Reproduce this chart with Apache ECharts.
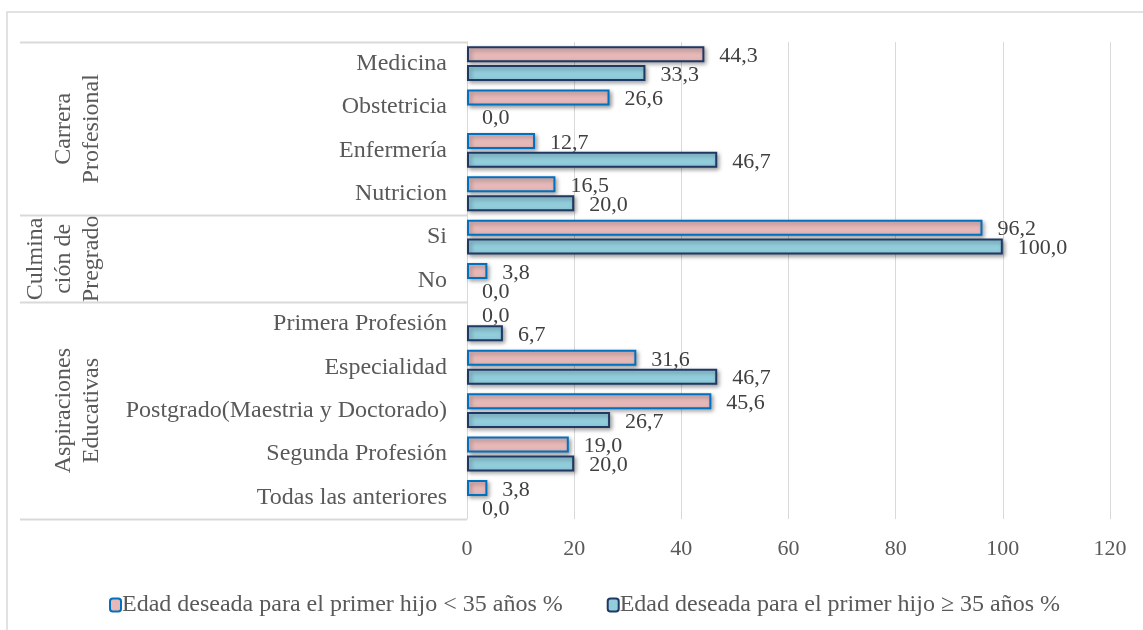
<!DOCTYPE html>
<html>
<head>
<meta charset="utf-8">
<script src="https://cdn.jsdelivr.net/npm/echarts@6/dist/echarts.min.js"></script>
<style>
  html, body { margin: 0; padding: 0; background: #fff; }
  #chart { width: 1143px; height: 630px; }
</style>
</head>
<body>
<div id="chart"></div>
<script>
// categorias (de arriba hacia abajo)
const categories = ['Medicina', 'Obstetricia', 'Enfermería', 'Nutricion', 'Si', 'No',
  'Primera Profesión', 'Especialidad', 'Postgrado(Maestria y Doctorado)', 'Segunda Profesión', 'Todas las anteriores']
// grupos: etiqueta (lineas) y numero de categorias
const groupNames = [['Carrera', 'Profesional'], ['Culmina', 'ción de', 'Pregrado'], ['Aspiraciones', 'Educativas']]
const groupSizes = [4, 2, 5]
const menos35 = [44.3, 26.6, 12.7, 16.5, 96.2, 3.8, 0.0, 31.6, 45.6, 19.0, 3.8]
const mas35 = [33.3, 0.0, 46.7, 20.0, 100.0, 0.0, 6.7, 46.7, 26.7, 20.0, 0.0]
const seriesNames = ['Edad deseada para el primer hijo < 35 años %', 'Edad deseada para el primer hijo ≥ 35 años %']
const xTicks = [0, 20, 40, 60, 80, 100, 120]

const FONT = '"Liberation Serif", "Times New Roman", serif'
const chart = echarts.init(document.getElementById('chart'))

const fmt = p => p.value.toFixed(1).replace('.', ',')
const shadow = { shadowBlur: 4, shadowColor: 'rgba(0,0,0,0.35)', shadowOffsetX: 2, shadowOffsetY: 2 }
const labelStyle = { show: true, position: 'right', distance: 15, offset: [0, 2], formatter: fmt,
  fontSize: 22, color: '#404040', fontFamily: FONT }

// los ceros no dibujan borde
function toItems(arr, extra) {
  return arr.map((v, i) => {
    if (v === 0) return { value: v, itemStyle: { borderWidth: 0, shadowBlur: 0, shadowOffsetX: 0, shadowOffsetY: 0 } }
    if (extra && extra[i]) return { value: v, itemStyle: extra[i] }
    return v
  })
}

chart.setOption({
  animation: false,
  textStyle: { fontFamily: FONT },
  grid: { left: 467, right: 33, top: 42, bottom: 111 },
  legend: {
    left: 104, top: 588,
    itemWidth: 11, itemHeight: 13, itemGap: 44,
    textStyle: { fontFamily: FONT, fontSize: 24, color: '#595959', padding: [0, 0, 0, -4] },
    data: seriesNames
  },
  xAxis: {
    type: 'value', min: xTicks[0], max: xTicks[xTicks.length - 1], interval: 20,
    axisLine: { show: false }, axisTick: { show: false },
    axisLabel: { fontSize: 22, color: '#595959', margin: 19, fontFamily: FONT },
    splitLine: { lineStyle: { color: '#d9d9d9', width: 1 } }
  },
  yAxis: {
    type: 'category', inverse: true, data: categories,
    axisLine: { show: true, lineStyle: { color: '#d9d9d9', width: 1 } },
    axisTick: { show: false },
    axisLabel: { fontSize: 24, color: '#595959', margin: 20, fontFamily: FONT }
  },
  series: [
    {
      name: seriesNames[0], type: 'bar', barWidth: 16, barGap: '18%',
      data: toItems(menos35, { 0: { borderColor: '#1f3864' } }),
      itemStyle: Object.assign({ color: '#e6b9b8', borderColor: '#0070c0', borderWidth: 2 }, shadow),
      label: labelStyle
    },
    {
      name: seriesNames[1], type: 'bar', barWidth: 16,
      data: toItems(mas35),
      itemStyle: Object.assign({ color: '#92cddc', borderColor: '#1f3864', borderWidth: 2 }, shadow),
      label: labelStyle
    }
  ]
})

// tabla de grupos a la izquierda, calculada desde el eje
const c0 = chart.convertToPixel({ yAxisIndex: 0 }, categories[0])
const c1 = chart.convertToPixel({ yAxisIndex: 0 }, categories[1])
const band = c1 - c0
const axisX = chart.convertToPixel({ xAxisIndex: 0 }, 0)
const gfx = [{
  type: 'rect', shape: { x: 7, y: 12, width: 1150, height: 640 },
  style: { fill: null, stroke: '#d9d9d9', lineWidth: 1.5 }, silent: true
}]
let start = 0
const edges = [0]
groupSizes.forEach((n, g) => {
  const top = c0 - band / 2 + start * band
  const bottom = top + n * band
  const lines = groupNames[g]
  gfx.push({
    type: 'text', x: 92 - (lines.length - 1) * 14, y: (top + bottom) / 2, rotation: Math.PI / 2,
    style: { text: lines.join('\n'), font: '24px ' + FONT, fill: '#595959',
      align: 'center', verticalAlign: 'middle', lineHeight: 28 }
  })
  start += n
  edges.push(start)
})
edges.forEach(k => {
  const y = Math.round(c0 - band / 2 + k * band) + 0.5
  gfx.push({ type: 'line', shape: { x1: 20, y1: y, x2: axisX, y2: y },
    style: { stroke: '#d9d9d9', lineWidth: 2 }, silent: true })
})
chart.setOption({ graphic: gfx })
</script>
</body>
</html>
